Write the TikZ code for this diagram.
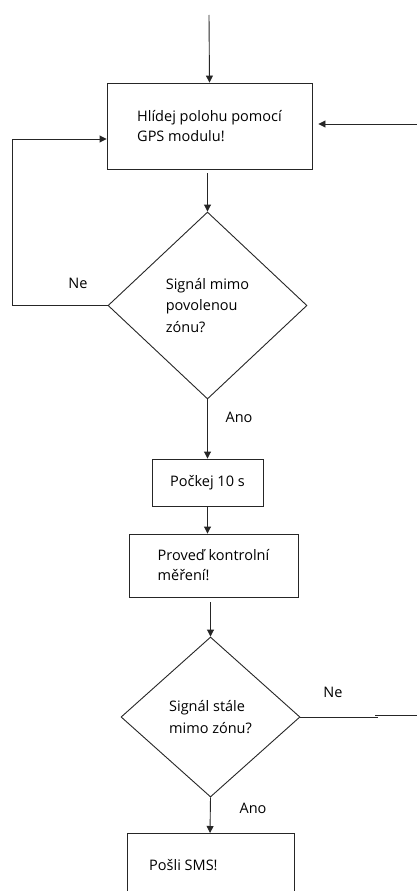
\documentclass[tikz,border=0pt]{standalone}
\usepackage{fontspec}
\setmainfont{Open Sans}
\usetikzlibrary{shapes.geometric,arrows.meta}
\tikzset{
  flow/.style={draw=black!85, line width=0.9pt},
  arrow/.style={flow, -{Triangle[length=7pt,width=7pt]}},
  stepbox/.style={draw=black!85, line width=0.9pt, rectangle, inner sep=0pt,
    align=left, font=\fontsize{14.5}{20}\selectfont},
  decision/.style={draw=black!85, line width=0.9pt, diamond, inner sep=0pt,
    align=left, font=\fontsize{14.5}{21.5}\selectfont},
  lbl/.style={inner sep=0pt, font=\fontsize{14.5}{16}\selectfont}
}
\begin{document}
\begin{tikzpicture}[x=1pt,y=1pt]
  \useasboundingbox (0,0) rectangle (417,-891);
  \fill[white] (0,0) rectangle (417,-891);
  \clip (0,0) rectangle (417,-891);

  % process steps
  \node[stepbox, minimum width=205pt, minimum height=86pt] (watch) at (209.5,-126)
    {Hlídej polohu pomocí\\GPS modulu!};
  \node[stepbox, minimum width=111pt, minimum height=47pt] (wait) at (207.5,-482.5)
    {Počkej 10 s};
  \node[stepbox, minimum width=169pt, minimum height=63pt] (check) at (213.5,-565.5)
    {Proveď kontrolní\\měření!};

  % decisions
  \node[decision, minimum width=199pt, minimum height=187pt] (out1) at (207.5,-305.5)
    {Signál mimo\\povolenou\\zónu?};
  \node[decision, minimum width=179pt, minimum height=160pt] (out2) at (210.5,-717)
    {Signál stále\\mimo zónu?};

  % final step, running past the lower edge
  \coordinate (smsNW) at (127,-833);
  \coordinate (smsSE) at (294,-900);
  \draw[flow] (smsNW) rectangle (smsSE);
  \node[lbl, anchor=west] (sms) at (149,-865) {Pošli SMS!};
  \coordinate (smsTop) at (210,-833);

  % entry points
  \coordinate (start) at (209,-15);
  \coordinate (back) at (417,-124);
  \draw[arrow] (start) -- (watch.north);
  \draw[arrow, shorten >=6pt] (back) -- (back -| watch.east);

  % main flow
  \draw[arrow, shorten <=4pt] (watch.south -| out1.north) -- (out1.north);
  \draw[arrow] (out1.south) -- (out1.south |- wait.north);
  \draw[arrow] (wait.south) -- (wait.south |- check.north);
  \draw[arrow, shorten <=5pt] (check.south -| out2.north) -- (out2.north);
  \draw[arrow] (out2.south) -- (smsTop);

  % "Ne" loop back to the GPS step
  \coordinate (loop) at (12,-139);
  \draw[arrow] (out1.west) -| (loop) -- (loop -| watch.west);

  % "Ne" exit of the second decision
  \coordinate (exitA) at (378,-717);
  \coordinate (exitB) at (375,-715);
  \coordinate (exitC) at (417,-715);
  \draw[flow] (out2.east) -- (exitA);
  \draw[flow] (exitB) -- (exitC);

  % branch labels
  \node[lbl] (ne1) at (78,-283) {Ne};
  \node[lbl] (ano1) at (239,-417) {Ano};
  \node[lbl] (ne2) at (333,-692) {Ne};
  \node[lbl] (ano2) at (253,-808) {Ano};
\end{tikzpicture}
\end{document}
